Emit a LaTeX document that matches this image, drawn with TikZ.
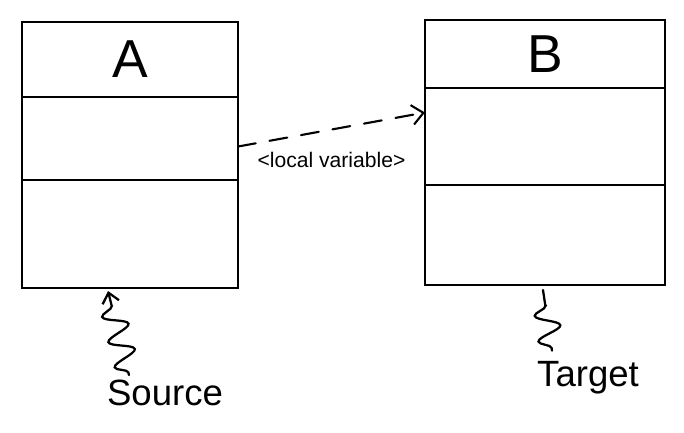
\documentclass[tikz,border=0pt]{standalone}
\usepackage{fontspec}
\setmainfont{Liberation Sans}
\usetikzlibrary{positioning,arrows.meta,decorations.pathmorphing}
\tikzset{
  part/.style={draw, line width=1.5pt, inner sep=0pt, outer sep=0pt},
  squiggle/.style={line width=1.6pt, line cap=round, decorate,
    decoration={snake, segment length=0.65cm, amplitude=0.3cm, pre length=2pt, post length=4pt}},
  hand/.style={font=\fontsize{26}{26}\selectfont}
}
\begin{document}
\begin{tikzpicture}[x=0.025cm, y=-0.025cm, line cap=round]
\useasboundingbox (0,0) rectangle (684,433);
% the two classes, three compartments each
\foreach \nm/\x/\yt/\w/\ha/\hb/\hc in {
A/130/22/5.4/1.875/2.075/2.7,
B/545/20/6.0/1.7/2.425/2.5}
{
  \node[part, anchor=north, minimum width=\w cm, minimum height=\ha cm,
        font=\fontsize{38}{38}\selectfont] (\nm head) at (\x,\yt) {\nm};
  \node[part, below=0pt of \nm head, minimum width=\w cm, minimum height=\hb cm] (\nm mid) {};
  \node[part, below=0pt of \nm mid, minimum width=\w cm, minimum height=\hc cm] (\nm ops) {};
}
\draw[line width=1.5pt, dash pattern=on 0.45cm off 0.35cm, -{Straight Barb[length=8pt, width=14pt]}]
  ([yshift=-0.2cm]Amid.east) -- ([yshift=0.6cm]Bmid.west)
  node[midway, below=0.42cm, font=\fontsize{15}{15}\selectfont] (lbl) {<local variable>};
% labels under the boxes
\node[hand] (src) at (165,393) {Source};
\node[hand] (tgt) at (588,378) {Target};
\coordinate (srcTip) at (108,291);
\coordinate (tgtTip) at (543,290);
\draw[squiggle, -{Straight Barb[length=7pt, width=12pt]}] ([xshift=-0.9cm]src.north) -- (srcTip);
\draw[squiggle] ([xshift=-0.9cm, yshift=0.15cm]tgt.north) -- (tgtTip);
\end{tikzpicture}
\end{document}
